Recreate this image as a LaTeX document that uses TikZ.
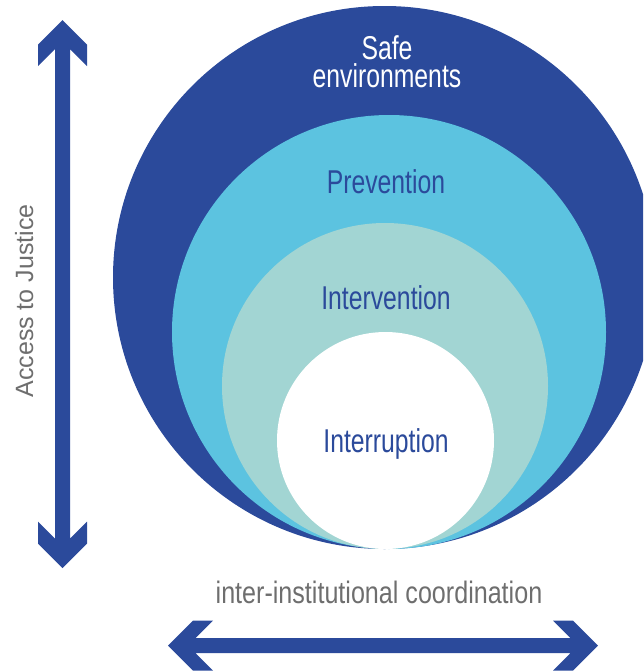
\documentclass[tikz,border=0pt]{standalone}
\usepackage{fontspec}
\setmainfont{Liberation Sans}
\newfontfamily\condfont[FakeStretch=0.75]{Liberation Sans}
\newfontfamily\graycondfont[FakeStretch=0.81]{Liberation Sans}
\usetikzlibrary{positioning}

\definecolor{darkring}{RGB}{43,74,155}
\definecolor{skyring}{RGB}{92,195,224}
\definecolor{tealring}{RGB}{162,213,211}
\definecolor{axisgray}{RGB}{110,110,110}

\begin{document}
\begin{tikzpicture}[
  x=1pt, y=-1pt,
  ring node/.style={
    circle, draw=none, inner sep=0pt, minimum size=#1,
  },
  ring label/.style={
    anchor=base, inner sep=0pt, text=darkring,
    font=\condfont\fontsize{33}{28}\selectfont,
  },
  axis label/.style={
    anchor=base, inner sep=0pt, text=axisgray,
  },
  axis arrow/.style={
    fill=darkring, draw=none,
  }
  ]
  \useasboundingbox (0,0) rectangle (643,672);
  \clip (0,0) rectangle (643,672);

  % nested rings, all touching at the bottom
  \node[ring node=543pt, fill=darkring] (safe) at (384.5,277.5) {};
  \node[ring node=434pt, fill=skyring] (prevention) at (389,332) {};
  \node[ring node=326pt, fill=tealring] (intervention) at (385,386) {};
  \node[ring node=217pt, fill=white] (interruption) at (385.5,440.5) {};

  \node[ring label, text=white] (safe text) at (387,59) {Safe};
  \node[ring label, text=white] (environments text) at (387,87) {environments};
  \node[ring label] (prevention text) at (386,193) {Prevention};
  \node[ring label] (intervention text) at (386,309) {Intervention};
  \node[ring label] (interruption text) at (386,452) {Interruption};

  % vertical axis
  \fill[axis arrow] (62.5,20) -- (87,44.5) -- (87,66) -- (70,49) --
    (70,538.5) -- (87,521.5) -- (87,543.5) -- (62.5,568) --
    (38,543.5) -- (38,521.5) -- (55,538.5) -- (55,49) --
    (38,66) -- (38,44.5) -- cycle;
  \node[axis label, rotate=90, font=\fontsize{25}{30}\selectfont]
    (justice text) at (33,301) {Access to Justice};

  % horizontal axis
  \fill[axis arrow] (168,645.5) -- (193,620.5) -- (213,620.5) -- (195.5,638) --
    (570.5,638) -- (553,620.5) -- (573,620.5) -- (598,645.5) --
    (573,670.5) -- (553,670.5) -- (570.5,653) -- (195.5,653) --
    (213,670.5) -- (193,670.5) -- cycle;
  \node[axis label, font=\graycondfont\fontsize{31}{36}\selectfont]
    (coordination text) at (379,603) {inter-institutional coordination};
\end{tikzpicture}
\end{document}
